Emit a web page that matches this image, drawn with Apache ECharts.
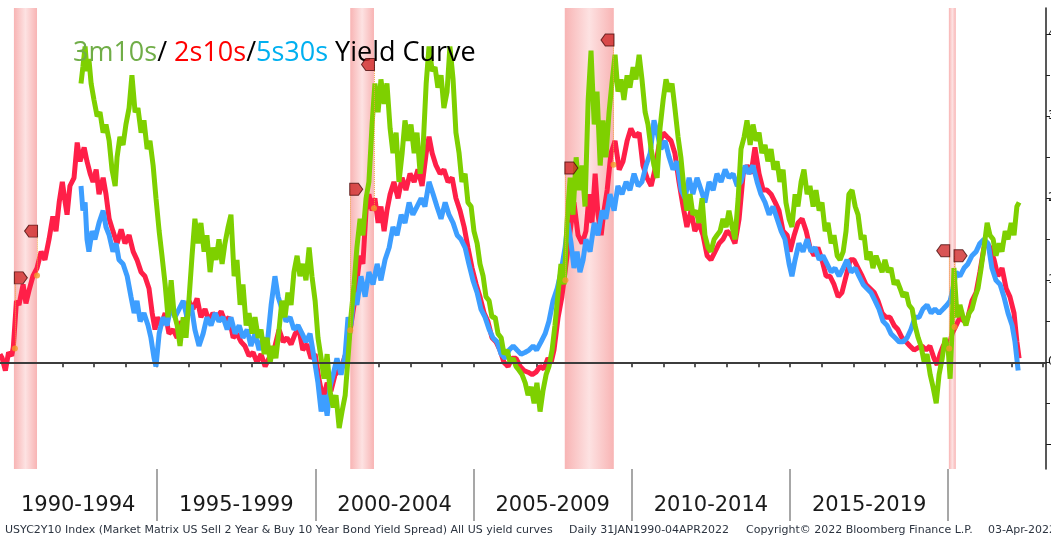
<!DOCTYPE html>
<html>
<head>
<meta charset="utf-8">
<title>3m10s / 2s10s / 5s30s Yield Curve</title>
<script src="https://cdn.jsdelivr.net/npm/echarts@6/dist/echarts.min.js"></script>
<style>
  html, body { margin: 0; padding: 0; background: #fff; }
  #chart { width: 1051px; height: 542px; }
</style>
</head>
<body>
<div id="chart"></div>
<script>
// 2s10s spread (%), [year, value]
const spread2s10s = [
  [1990.03,0.10],[1990.1,0.05],[1990.2,-0.10],[1990.3,0.12],[1990.4,0.08],[1990.45,0.18],[1990.55,0.75],
  [1990.63,0.70],[1990.76,0.95],[1990.85,0.72],[1990.95,0.88],[1991.07,1.05],[1991.2,1.15],[1991.33,1.35],
  [1991.45,1.25],[1991.58,1.50],[1991.7,1.78],[1991.8,1.60],[1991.9,1.95],[1992.0,2.20],[1992.09,1.95],
  [1992.15,1.80],[1992.24,2.15],[1992.37,2.25],[1992.47,2.68],[1992.56,2.45],[1992.69,2.62],[1992.78,2.45],
  [1992.88,2.30],[1992.97,2.20],[1993.07,2.35],[1993.16,2.05],[1993.29,2.25],[1993.38,2.05],[1993.48,1.75],
  [1993.6,1.60],[1993.73,1.45],[1993.86,1.62],[1993.98,1.45],[1994.11,1.55],[1994.24,1.35],[1994.36,1.25],
  [1994.49,1.10],[1994.61,1.05],[1994.74,0.90],[1994.84,0.60],[1994.93,0.40],[1995.0,0.55],[1995.12,0.45],
  [1995.25,0.60],[1995.37,0.35],[1995.5,0.40],[1995.63,0.30],[1995.75,0.50],[1995.88,0.42],[1996.0,0.75],
  [1996.13,0.65],[1996.26,0.78],[1996.38,0.55],[1996.51,0.65],[1996.64,0.50],[1996.76,0.60],[1996.89,0.55],
  [1997.02,0.62],[1997.14,0.50],[1997.27,0.55],[1997.4,0.30],[1997.52,0.35],[1997.65,0.25],[1997.77,0.20],
  [1997.9,0.08],[1998.03,0.12],[1998.15,0.00],[1998.28,0.10],[1998.41,-0.05],[1998.53,0.05],[1998.69,0.15],
  [1998.85,0.40],[1998.98,0.25],[1999.1,0.30],[1999.23,0.22],[1999.36,0.35],[1999.48,0.40],[1999.6,0.15],
  [1999.73,0.22],[1999.86,0.05],[1999.99,0.10],[2000.11,-0.20],[2000.24,-0.45],[2000.37,-0.25],[2000.49,-0.35],
  [2000.62,-0.15],[2000.75,-0.10],[2000.87,0.00],[2001.0,0.15],[2001.12,0.45],[2001.22,0.70],[2001.31,1.00],
  [2001.41,1.30],[2001.5,1.20],[2001.6,1.85],[2001.69,2.05],[2001.79,1.85],[2001.88,2.00],[2001.98,1.70],
  [2002.07,1.90],[2002.17,1.60],[2002.26,1.85],[2002.36,2.05],[2002.48,2.20],[2002.61,2.00],[2002.74,2.25],
  [2002.86,2.10],[2002.99,2.30],[2003.12,2.20],[2003.24,2.35],[2003.37,2.15],[2003.5,2.55],[2003.59,2.75],
  [2003.69,2.55],[2003.81,2.40],[2003.94,2.30],[2004.06,2.35],[2004.19,2.20],[2004.32,2.25],[2004.44,2.00],
  [2004.57,1.85],[2004.7,1.65],[2004.82,1.40],[2004.95,1.15],[2005.08,0.95],[2005.2,0.80],[2005.33,0.60],
  [2005.45,0.50],[2005.58,0.30],[2005.71,0.25],[2005.83,0.15],[2005.96,0.00],[2006.09,-0.05],[2006.21,0.05],
  [2006.34,0.05],[2006.47,-0.05],[2006.59,-0.10],[2006.72,-0.12],[2006.85,-0.15],[2006.97,-0.12],[2007.1,-0.05],
  [2007.22,-0.08],[2007.35,0.05],[2007.45,0.00],[2007.54,0.15],[2007.67,0.55],[2007.79,0.80],[2007.92,1.20],
  [2008.05,1.60],[2008.17,1.95],[2008.3,1.55],[2008.43,1.45],[2008.55,1.60],[2008.65,2.05],[2008.74,1.70],
  [2008.84,2.30],[2008.93,1.80],[2009.03,1.55],[2009.12,1.85],[2009.22,2.10],[2009.34,2.55],[2009.47,2.70],
  [2009.6,2.35],[2009.72,2.45],[2009.85,2.70],[2009.97,2.85],[2010.1,2.75],[2010.23,2.80],[2010.35,2.40],
  [2010.48,2.25],[2010.61,2.15],[2010.73,2.35],[2010.86,2.65],[2010.99,2.80],[2011.11,2.75],[2011.24,2.70],
  [2011.36,2.55],[2011.49,2.20],[2011.62,1.90],[2011.74,1.65],[2011.87,1.85],[2011.99,1.60],[2012.12,1.70],
  [2012.25,1.55],[2012.38,1.30],[2012.5,1.25],[2012.63,1.35],[2012.76,1.45],[2012.88,1.50],[2013.01,1.60],
  [2013.14,1.55],[2013.26,1.45],[2013.39,1.75],[2013.52,2.30],[2013.64,2.40],[2013.77,2.30],[2013.89,2.62],
  [2014.02,2.30],[2014.15,2.10],[2014.27,2.10],[2014.4,2.05],[2014.53,1.95],[2014.65,1.85],[2014.78,1.60],
  [2014.91,1.55],[2015.0,1.35],[2015.13,1.55],[2015.25,1.70],[2015.38,1.75],[2015.51,1.60],[2015.63,1.40],
  [2015.76,1.30],[2015.88,1.40],[2016.01,1.25],[2016.14,1.05],[2016.26,1.05],[2016.39,0.95],[2016.52,0.80],
  [2016.64,0.85],[2016.77,1.05],[2016.9,1.25],[2017.02,1.25],[2017.15,1.15],[2017.28,1.05],[2017.4,0.95],
  [2017.53,0.90],[2017.66,0.85],[2017.78,0.75],[2017.91,0.60],[2018.03,0.55],[2018.16,0.55],[2018.29,0.45],
  [2018.41,0.40],[2018.54,0.30],[2018.67,0.25],[2018.79,0.20],[2018.92,0.15],[2019.05,0.18],[2019.17,0.20],
  [2019.3,0.15],[2019.42,0.20],[2019.55,0.05],[2019.65,-0.03],[2019.74,0.10],[2019.84,0.20],[2019.93,0.25],
  [2020.03,0.20],[2020.12,0.35],[2020.25,0.45],[2020.37,0.55],[2020.5,0.50],[2020.62,0.55],[2020.75,0.75],
  [2020.88,0.85],[2021.0,1.10],[2021.13,1.40],[2021.23,1.45],[2021.32,1.40],[2021.45,1.25],[2021.57,1.05],
  [2021.7,1.15],[2021.83,0.90],[2021.95,0.80],[2022.08,0.60],[2022.17,0.25],[2022.24,0.05]
];

// 5s30s spread (%)
const spread5s30s = [
  [1992.59,2.15],[1992.65,1.85],[1992.72,1.95],[1992.78,1.50],[1992.84,1.35],[1992.94,1.60],[1993.03,1.50],
  [1993.16,1.70],[1993.29,1.85],[1993.38,1.65],[1993.48,1.55],[1993.6,1.35],[1993.7,1.45],[1993.79,1.25],
  [1993.92,1.20],[1994.05,1.05],[1994.17,0.80],[1994.27,0.60],[1994.36,0.75],[1994.46,0.50],[1994.58,0.60],
  [1994.71,0.45],[1994.8,0.30],[1994.9,0.05],[1994.96,-0.05],[1995.06,0.35],[1995.18,0.55],[1995.31,0.45],
  [1995.44,0.70],[1995.56,0.55],[1995.69,0.65],[1995.82,0.75],[1995.94,0.55],[1996.07,0.70],[1996.19,0.40],
  [1996.32,0.20],[1996.45,0.35],[1996.57,0.55],[1996.7,0.45],[1996.83,0.60],[1996.95,0.50],[1997.08,0.55],
  [1997.21,0.40],[1997.33,0.55],[1997.46,0.35],[1997.59,0.45],[1997.71,0.30],[1997.84,0.40],[1997.96,0.20],
  [1998.09,0.35],[1998.22,0.15],[1998.34,0.30],[1998.47,0.20],[1998.6,0.70],[1998.72,1.05],[1998.82,0.80],
  [1998.94,0.65],[1999.07,0.50],[1999.2,0.55],[1999.32,0.40],[1999.45,0.45],[1999.58,0.35],[1999.7,0.25],
  [1999.83,0.35],[1999.96,0.05],[2000.08,-0.25],[2000.18,-0.60],[2000.27,-0.40],[2000.37,-0.65],[2000.46,-0.30],
  [2000.56,-0.15],[2000.68,0.05],[2000.81,-0.15],[2000.94,0.10],[2001.03,0.55],[2001.12,0.45],[2001.22,0.85],
  [2001.31,0.70],[2001.44,1.05],[2001.57,0.80],[2001.69,1.10],[2001.82,0.95],[2001.95,1.20],[2002.07,1.00],
  [2002.2,1.25],[2002.33,1.40],[2002.45,1.65],[2002.58,1.55],[2002.71,1.80],[2002.83,1.70],[2002.96,1.95],
  [2003.08,1.80],[2003.21,1.90],[2003.34,2.00],[2003.46,1.90],[2003.59,2.20],[2003.72,2.05],[2003.84,1.90],
  [2003.97,1.75],[2004.1,1.95],[2004.22,1.80],[2004.35,1.70],[2004.48,1.55],[2004.6,1.50],[2004.73,1.40],
  [2004.85,1.20],[2004.98,1.00],[2005.11,0.85],[2005.23,0.65],[2005.36,0.55],[2005.49,0.40],[2005.61,0.30],
  [2005.74,0.25],[2005.87,0.10],[2005.99,0.05],[2006.12,0.15],[2006.25,0.20],[2006.37,0.15],[2006.5,0.10],
  [2006.62,0.12],[2006.75,0.15],[2006.88,0.20],[2006.99,0.15],[2007.13,0.25],[2007.26,0.35],[2007.38,0.50],
  [2007.51,0.75],[2007.64,0.90],[2007.76,1.10],[2007.89,1.40],[2007.98,1.70],[2008.08,1.45],[2008.17,1.15],
  [2008.27,1.35],[2008.36,1.10],[2008.46,1.25],[2008.55,1.50],[2008.68,1.35],[2008.81,1.70],[2008.93,1.55],
  [2009.06,1.85],[2009.18,1.75],[2009.31,2.05],[2009.44,1.85],[2009.56,2.15],[2009.69,2.05],[2009.82,2.20],
  [2009.94,2.10],[2010.07,2.30],[2010.2,2.15],[2010.32,2.20],[2010.45,2.40],[2010.58,2.55],[2010.7,2.95],
  [2010.8,2.80],[2010.92,2.60],[2011.05,2.70],[2011.18,2.50],[2011.3,2.35],[2011.43,2.45],[2011.56,2.10],
  [2011.68,2.00],[2011.81,2.25],[2011.93,2.05],[2012.06,2.25],[2012.19,2.10],[2012.31,1.95],[2012.44,2.20],
  [2012.57,2.10],[2012.69,2.30],[2012.82,2.20],[2012.95,2.35],[2013.07,2.25],[2013.2,2.30],[2013.33,2.15],
  [2013.45,2.20],[2013.58,2.40],[2013.7,2.30],[2013.83,2.40],[2013.96,2.20],[2014.08,2.05],[2014.21,1.95],
  [2014.34,1.80],[2014.46,1.90],[2014.59,1.75],[2014.72,1.60],[2014.84,1.50],[2014.97,1.20],[2015.06,1.05],
  [2015.16,1.25],[2015.28,1.45],[2015.41,1.35],[2015.54,1.50],[2015.66,1.35],[2015.79,1.40],[2015.92,1.25],
  [2016.04,1.30],[2016.17,1.20],[2016.3,1.10],[2016.42,1.15],[2016.55,1.05],[2016.68,1.15],[2016.8,1.25],
  [2016.93,1.10],[2017.06,1.15],[2017.18,1.05],[2017.31,0.95],[2017.43,0.90],[2017.56,0.85],[2017.69,0.75],
  [2017.81,0.65],[2017.94,0.50],[2018.07,0.45],[2018.19,0.35],[2018.32,0.30],[2018.45,0.25],[2018.57,0.25],
  [2018.7,0.30],[2018.82,0.40],[2018.95,0.55],[2019.08,0.55],[2019.2,0.65],[2019.33,0.70],[2019.46,0.60],
  [2019.58,0.65],[2019.71,0.60],[2019.84,0.65],[2019.96,0.70],[2020.06,0.75],[2020.15,0.90],[2020.25,1.10],
  [2020.37,1.05],[2020.5,1.15],[2020.62,1.20],[2020.75,1.30],[2020.88,1.35],[2021.0,1.45],[2021.13,1.50],
  [2021.26,1.45],[2021.38,1.15],[2021.51,1.00],[2021.64,0.95],[2021.76,0.80],[2021.89,0.60],[2022.02,0.45],
  [2022.11,0.25],[2022.21,-0.10]
];

// 3m10s spread (%)
const spread3m10s = [
  [1992.59,3.40],[1992.65,3.60],[1992.72,3.85],[1992.78,3.55],[1992.84,3.70],[1992.91,3.40],[1993.0,3.20],
  [1993.1,3.00],[1993.19,3.05],[1993.29,2.80],[1993.38,2.90],[1993.48,2.70],[1993.57,2.35],[1993.67,2.15],
  [1993.73,2.50],[1993.82,2.75],[1993.92,2.65],[1994.01,2.90],[1994.11,3.10],[1994.2,3.50],[1994.3,3.05],
  [1994.39,3.10],[1994.49,2.80],[1994.58,2.95],[1994.68,2.60],[1994.77,2.70],[1994.87,2.40],[1994.96,2.00],
  [1995.06,1.60],[1995.15,1.30],[1995.25,0.95],[1995.34,0.55],[1995.44,1.00],[1995.53,0.60],[1995.63,0.45],
  [1995.72,0.20],[1995.82,0.55],[1995.91,0.30],[1996.0,0.75],[1996.1,1.30],[1996.19,1.75],[1996.29,1.45],
  [1996.38,1.70],[1996.48,1.35],[1996.57,1.55],[1996.67,1.10],[1996.76,1.40],[1996.86,1.25],[1996.95,1.50],
  [1997.05,1.20],[1997.14,1.45],[1997.24,1.65],[1997.33,1.80],[1997.43,1.05],[1997.52,1.25],[1997.62,0.70],
  [1997.71,0.95],[1997.81,0.45],[1997.9,0.60],[1998.0,0.35],[1998.09,0.55],[1998.19,0.30],[1998.28,0.40],
  [1998.38,0.10],[1998.47,0.30],[1998.57,0.00],[1998.66,0.20],[1998.75,0.05],[1998.85,0.40],[1998.94,0.75],
  [1999.04,0.55],[1999.13,0.85],[1999.23,0.70],[1999.32,1.10],[1999.42,1.30],[1999.51,1.05],[1999.61,1.20],
  [1999.7,1.00],[1999.8,1.40],[1999.89,1.05],[1999.99,0.75],[2000.08,0.30],[2000.18,0.05],[2000.27,-0.20],
  [2000.37,0.10],[2000.46,-0.35],[2000.56,-0.55],[2000.65,-0.40],[2000.75,-0.80],[2000.84,-0.60],[2000.94,-0.40],
  [2001.03,0.05],[2001.12,0.55],[2001.22,0.95],[2001.31,1.40],[2001.41,1.75],[2001.5,1.55],[2001.6,2.00],
  [2001.69,2.20],[2001.79,2.90],[2001.88,3.40],[2001.98,3.05],[2002.07,3.45],[2002.17,3.15],[2002.26,3.40],
  [2002.36,2.85],[2002.45,2.55],[2002.55,2.80],[2002.64,2.20],[2002.74,2.55],[2002.83,2.95],[2002.93,2.70],
  [2003.02,2.90],[2003.12,2.55],[2003.21,2.80],[2003.31,2.30],[2003.4,2.60],[2003.5,3.40],[2003.59,3.85],
  [2003.69,3.55],[2003.78,3.60],[2003.87,3.35],[2003.97,3.50],[2004.06,3.10],[2004.16,3.30],[2004.25,3.85],
  [2004.35,3.45],[2004.44,2.80],[2004.54,2.55],[2004.63,2.20],[2004.73,2.30],[2004.82,1.95],[2004.92,1.90],
  [2005.01,1.60],[2005.11,1.45],[2005.2,1.20],[2005.3,1.05],[2005.39,0.80],[2005.49,0.75],[2005.58,0.55],
  [2005.68,0.55],[2005.77,0.35],[2005.87,0.30],[2005.96,0.10],[2006.06,0.15],[2006.15,0.00],[2006.25,0.05],
  [2006.34,-0.05],[2006.44,-0.10],[2006.53,-0.15],[2006.63,-0.25],[2006.72,-0.40],[2006.82,-0.30],[2006.91,-0.50],
  [2007.0,-0.25],[2007.1,-0.60],[2007.19,-0.35],[2007.29,-0.15],[2007.38,-0.05],[2007.48,0.15],[2007.57,0.45],
  [2007.67,0.85],[2007.76,1.20],[2007.86,0.95],[2007.95,1.70],[2008.05,2.25],[2008.14,1.80],[2008.24,2.50],
  [2008.33,2.10],[2008.43,2.40],[2008.52,1.90],[2008.62,3.20],[2008.71,3.80],[2008.81,2.90],[2008.9,3.30],
  [2009.0,2.40],[2009.09,2.95],[2009.18,2.50],[2009.28,3.05],[2009.37,3.40],[2009.47,3.75],[2009.56,3.30],
  [2009.66,3.45],[2009.75,3.20],[2009.85,3.50],[2009.94,3.35],[2010.04,3.60],[2010.13,3.45],[2010.23,3.75],
  [2010.32,3.45],[2010.42,3.05],[2010.51,2.90],[2010.61,2.60],[2010.7,2.40],[2010.8,2.25],[2010.89,2.85],
  [2010.99,3.20],[2011.08,3.45],[2011.18,3.30],[2011.27,3.40],[2011.36,3.10],[2011.46,2.75],[2011.55,2.50],
  [2011.65,2.10],[2011.74,1.85],[2011.84,2.05],[2011.93,1.80],[2012.03,1.85],[2012.12,1.70],[2012.22,2.00],
  [2012.31,1.55],[2012.41,1.40],[2012.5,1.35],[2012.6,1.50],[2012.69,1.55],[2012.79,1.60],[2012.88,1.75],
  [2012.98,1.65],[2013.07,1.85],[2013.17,1.65],[2013.26,1.50],[2013.36,2.00],[2013.45,2.60],[2013.55,2.75],
  [2013.64,2.95],[2013.74,2.65],[2013.83,2.90],[2013.93,2.70],[2014.02,2.80],[2014.11,2.55],[2014.21,2.65],
  [2014.3,2.45],[2014.4,2.60],[2014.49,2.35],[2014.59,2.45],[2014.68,2.20],[2014.78,2.35],[2014.87,1.95],
  [2014.97,1.75],[2015.06,1.65],[2015.16,2.05],[2015.25,1.90],[2015.35,2.20],[2015.44,2.35],[2015.54,2.05],
  [2015.63,2.15],[2015.73,1.90],[2015.82,2.10],[2015.92,1.85],[2016.01,1.95],[2016.11,1.60],[2016.2,1.70],
  [2016.3,1.45],[2016.39,1.55],[2016.49,1.30],[2016.58,1.25],[2016.68,1.35],[2016.77,1.60],[2016.86,2.05],
  [2016.96,2.10],[2017.06,1.90],[2017.15,1.80],[2017.25,1.50],[2017.34,1.55],[2017.43,1.25],[2017.53,1.35],
  [2017.62,1.15],[2017.72,1.30],[2017.81,1.20],[2017.91,1.10],[2018.0,1.25],[2018.1,1.10],[2018.19,1.15],
  [2018.29,0.95],[2018.38,1.00],[2018.48,0.90],[2018.57,0.80],[2018.67,0.85],[2018.76,0.70],[2018.86,0.65],
  [2018.95,0.45],[2019.05,0.30],[2019.14,0.20],[2019.24,0.00],[2019.33,0.10],[2019.43,-0.15],[2019.52,-0.30],
  [2019.62,-0.50],[2019.71,-0.15],[2019.81,0.05],[2019.9,0.30],[2020.0,0.15],[2020.06,-0.20],[2020.12,0.40],
  [2020.18,1.15],[2020.28,0.55],[2020.37,0.70],[2020.47,0.55],[2020.56,0.45],[2020.66,0.60],[2020.75,0.65],
  [2020.85,0.80],[2020.94,0.90],[2021.04,1.15],[2021.13,1.40],[2021.23,1.70],[2021.32,1.55],[2021.42,1.50],
  [2021.51,1.30],[2021.61,1.45],[2021.7,1.35],[2021.8,1.60],[2021.89,1.50],[2021.99,1.70],[2022.08,1.55],
  [2022.17,1.90],[2022.24,1.95]
];

// recessions [start, end]
const recessions = [[1990.47, 1991.2], [2001.1, 2001.85], [2007.88, 2009.43], [2020.02, 2020.24]];

// event flags on the 2s10s line: date, value on the line, flag level, direction
const eventYears = [1990.5, 1991.2, 2001.1, 2001.85, 2007.9, 2009.42, 2020.03, 2020.2];
const eventValues = [0.17, 1.06, 0.39, 1.88, 1.00, 2.41, 0.17, 0.43];
const flagValues = [1.03, 1.60, 2.11, 3.63, 2.37, 3.93, 1.36, 1.30];
const flagDirs = ['R', 'L', 'R', 'L', 'R', 'L', 'L', 'R'];

// axis ticks and labels
const yearTicks = [];
for (let y = 1991; y <= 2023; y++) yearTicks.push(y);
const periodBounds = [1995, 2000, 2005, 2010, 2015, 2020];
const periodCenters = [1992.5, 1997.5, 2002.5, 2007.5, 2012.5, 2017.5];
const periodLabels = ['1990-1994', '1995-1999', '2000-2004', '2005-2009', '2010-2014', '2015-2019'];
const yTicks = [-1, -0.5, 0, 0.5, 1, 1.5, 2, 2.5, 3, 3.5, 4];
const yLabels = [-1, 0, 1, 2, 3, 4];

const footerLeft = 'USYC2Y10 Index (Market Matrix US Sell 2 Year & Buy 10 Year Bond Yield Spread) All US yield curves';
const footerMid = 'Daily 31JAN1990-04APR2022';
const footerCopy = 'Copyright\u00a9 2022 Bloomberg Finance L.P.';
const footerDate = '03-Apr-2022';

const flagRight = 'path://M0,0 L8,0 L12,6 L8,12 L0,12 Z';
const flagLeft = 'path://M12,0 L4,0 L0,6 L4,12 L12,12 Z';

const chart = echarts.init(document.getElementById('chart'));

const xMin = 1990.03, xMax = 2023.09;

const bandColor = new echarts.graphic.LinearGradient(0, 0, 1, 0, [
    { offset: 0, color: '#f8b4b4' },
    { offset: 0.5, color: '#fde2e2' },
    { offset: 1, color: '#f8b4b4' }
]);

const titleFont = { fontSize: 27, fontFamily: 'Open Sans', fontWeight: 'normal' };

const option = {
    animation: false,
    backgroundColor: '#fff',
    textStyle: { fontFamily: 'DejaVu Sans' },
    title: {
        text: '{g|3m10s}{k|/ }{r|2s10s}{k|/}{b|5s30s}{k| Yield Curve}',
        left: 68,
        top: 35,
        textStyle: {
            fontWeight: 'normal',
            rich: {
                g: Object.assign({ color: '#70ad47' }, titleFont),
                r: Object.assign({ color: '#ff0000' }, titleFont),
                b: Object.assign({ color: '#00b0f0' }, titleFont),
                k: Object.assign({ color: '#000000' }, titleFont)
            }
        }
    },
    grid: { left: 0, right: 5, top: 8, bottom: 73, outerBoundsMode: 'none', containLabel: false },
    xAxis: [
        {
            type: 'value',
            min: xMin,
            max: xMax,
            position: 'bottom',
            axisLine: { lineStyle: { color: '#3a3a3a', width: 2 } },
            axisTick: { customValues: yearTicks, length: 5, lineStyle: { color: '#222', width: 1.5 } },
            axisLabel: {
                customValues: periodCenters,
                formatter: v => periodLabels[periodCenters.indexOf(v)],
                fontSize: 21,
                color: '#1a1a1a',
                margin: 26
            },
            splitLine: { show: false }
        },
        {
            type: 'value',
            min: xMin,
            max: xMax,
            position: 'bottom',
            axisLine: { show: false },
            axisTick: { customValues: periodBounds, length: 52, lineStyle: { color: '#8a8a8a', width: 1.5 } },
            axisLabel: { show: false },
            splitLine: { show: false }
        }
    ],
    yAxis: {
        type: 'value',
        position: 'right',
        min: -1.3,
        max: 4.32,
        axisLine: { show: true, lineStyle: { color: '#222', width: 1.5 } },
        axisTick: { show: true, customValues: yTicks, length: 4, lineStyle: { color: '#222' } },
        axisLabel: { customValues: yLabels, margin: 2, fontSize: 12, color: '#111' },
        splitLine: { show: false }
    },
    series: [
        {
            name: '2s10s',
            type: 'line',
            data: spread2s10s,
            symbol: 'none',
            lineStyle: { color: '#ff1f48', width: 5 },
            markArea: {
                silent: true,
                itemStyle: { color: bandColor },
                data: recessions.map(r => [{ xAxis: r[0] }, { xAxis: r[1] }])
            },
            markLine: {
                silent: true,
                symbol: 'none',
                label: { show: false },
                lineStyle: { color: '#3c3c3c', width: 2, type: 'solid' },
                data: [{ yAxis: 0 }]
            }
        },
        {
            name: '5s30s',
            type: 'line',
            data: spread5s30s,
            symbol: 'none',
            lineStyle: { color: '#3d9eff', width: 5 }
        },
        {
            name: '3m10s',
            type: 'line',
            data: spread3m10s,
            symbol: 'none',
            lineStyle: { color: '#7ed000', width: 5 }
        },
        {
            name: 'events',
            type: 'scatter',
            z: 6,
            symbolSize: 6,
            itemStyle: { color: '#f39a2a' },
            data: eventYears.map((y, i) => [y, eventValues[i]]),
            markLine: {
                silent: true,
                symbol: 'none',
                label: { show: false },
                lineStyle: { color: '#f0a040', width: 1, type: 'dotted' },
                data: eventYears.map((y, i) => [
                    { coord: [y, eventValues[i]] },
                    { coord: [y, flagValues[i]] }
                ])
            }
        },
        {
            name: 'flags',
            type: 'scatter',
            z: 7,
            data: eventYears.map((y, i) => ({
                value: [y, flagValues[i]],
                symbol: flagDirs[i] === 'R' ? flagRight : flagLeft,
                symbolOffset: flagDirs[i] === 'R' ? [6, 0] : [-6, 0]
            })),
            symbolSize: [13, 12],
            itemStyle: { color: '#d02a2a', borderColor: '#4a0c0c', borderWidth: 1 }
        }
    ],
    graphic: [
        {
            type: 'text', left: 5, top: 525,
            style: { text: footerLeft, fill: '#2c3440', font: '11px "DejaVu Sans"' }
        },
        {
            type: 'text', left: 569, top: 525,
            style: { text: footerMid, fill: '#2c3440', font: '11px "DejaVu Sans"' }
        },
        {
            type: 'text', left: 746, top: 525,
            style: { text: footerCopy, fill: '#2c3440', font: '11px "DejaVu Sans"' }
        },
        {
            type: 'text', left: 988, top: 525,
            style: { text: footerDate, fill: '#2c3440', font: '11px "DejaVu Sans"' }
        }
    ]
};

chart.setOption(option);
</script>
</body>
</html>
